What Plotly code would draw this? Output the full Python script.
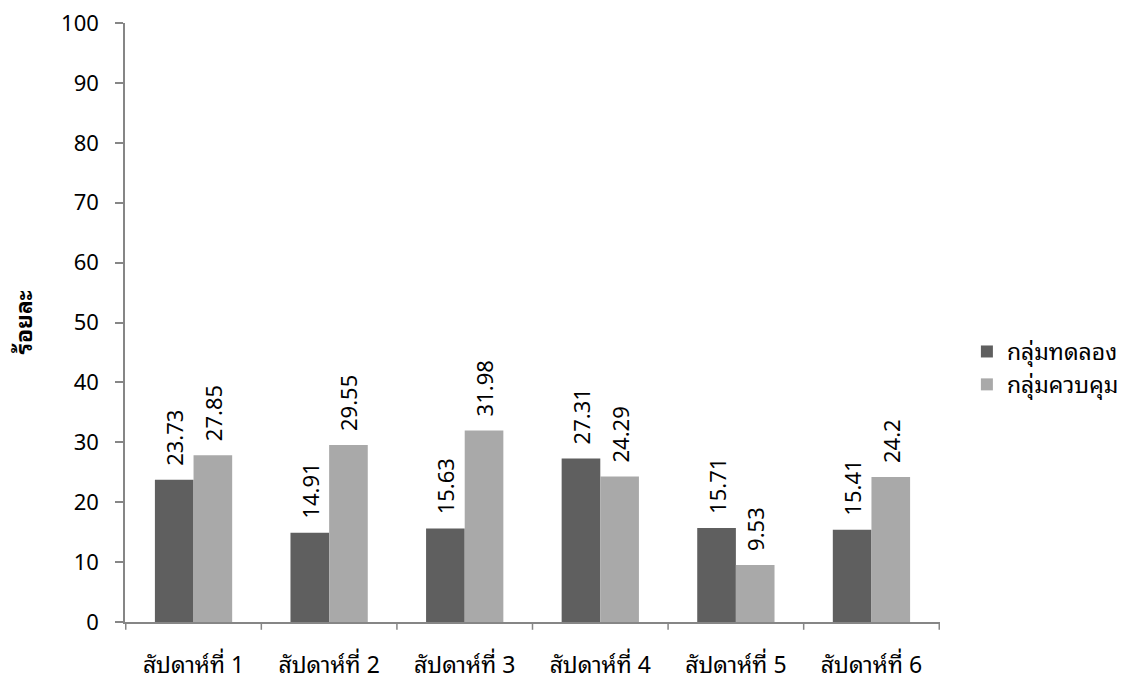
import plotly.graph_objects as go

categories = ["สัปดาห์ที่ 1", "สัปดาห์ที่ 2", "สัปดาห์ที่ 3", "สัปดาห์ที่ 4", "สัปดาห์ที่ 5", "สัปดาห์ที่ 6"]
experimental = [23.73, 14.91, 15.63, 27.31, 15.71, 15.41]
control = [27.85, 29.55, 31.98, 24.29, 9.53, 24.2]
exp_labels = ["23.73", "14.91", "15.63", "27.31", "15.71", "15.41"]
ctl_labels = ["27.85", "29.55", "31.98", "24.29", "9.53", "24.2"]
series_names = ["กลุ่มทดลอง", "กลุ่มควบคุม"]

font_family = "Noto Sans, Noto Sans Thai Looped, Noto Sans Thai, Tahoma, sans-serif"
pad = "\u2002"  # small gap between bar top and rotated label

fig = go.Figure()
fig.add_trace(go.Bar(
    x=categories, y=experimental, name=series_names[0],
    marker=dict(color="#5f5f5f", line=dict(width=0)),
    text=[pad + s for s in exp_labels], textposition="outside", textangle=-90,
    textfont=dict(size=22, color="#000000", family=font_family),
    constraintext="none", cliponaxis=False,
))
fig.add_trace(go.Bar(
    x=categories, y=control, name=series_names[1],
    marker=dict(color="#a9a9a9", line=dict(width=0)),
    text=[pad + s for s in ctl_labels], textposition="outside", textangle=-90,
    textfont=dict(size=22, color="#000000", family=font_family),
    constraintext="none", cliponaxis=False,
))

fig.update_layout(
    width=1135, height=681,
    margin=dict(l=125, r=195, t=23, b=59, autoexpand=False),
    paper_bgcolor="white", plot_bgcolor="white",
    barmode="group", bargap=0.43, bargroupgap=0,
    font=dict(family=font_family, size=20, color="#000000"),
    showlegend=True,
    legend=dict(x=1.033, y=0.424, xanchor="left", yanchor="middle",
                font=dict(size=23, color="#000000"), tracegroupgap=0,
                bgcolor="rgba(0,0,0,0)"),
    xaxis=dict(
        showline=True, linecolor="#868686", linewidth=1.5,
        ticks="", showgrid=False, tickfont=dict(size=23),
        ticklabelstandoff=22, automargin=False,
    ),
    yaxis=dict(
        range=[0, 100], dtick=10, showline=True, linecolor="#868686", linewidth=1.5,
        ticks="outside", ticklen=8, tickcolor="#868686", tickwidth=1.5,
        showgrid=False, zeroline=False, tickfont=dict(size=22),
        ticklabelstandoff=12, automargin=False,
        title=dict(text="<b>ร้อยละ</b>", font=dict(size=23), standoff=22),
    ),
)

# category boundary ticks on x axis
for i in range(len(categories) + 1):
    fig.add_shape(type="line", xref="x", yref="paper",
                  x0=i - 0.5, x1=i - 0.5, y0=0, y1=-0.013,
                  line=dict(color="#868686", width=1.5))

fig.write_html("out.html")
